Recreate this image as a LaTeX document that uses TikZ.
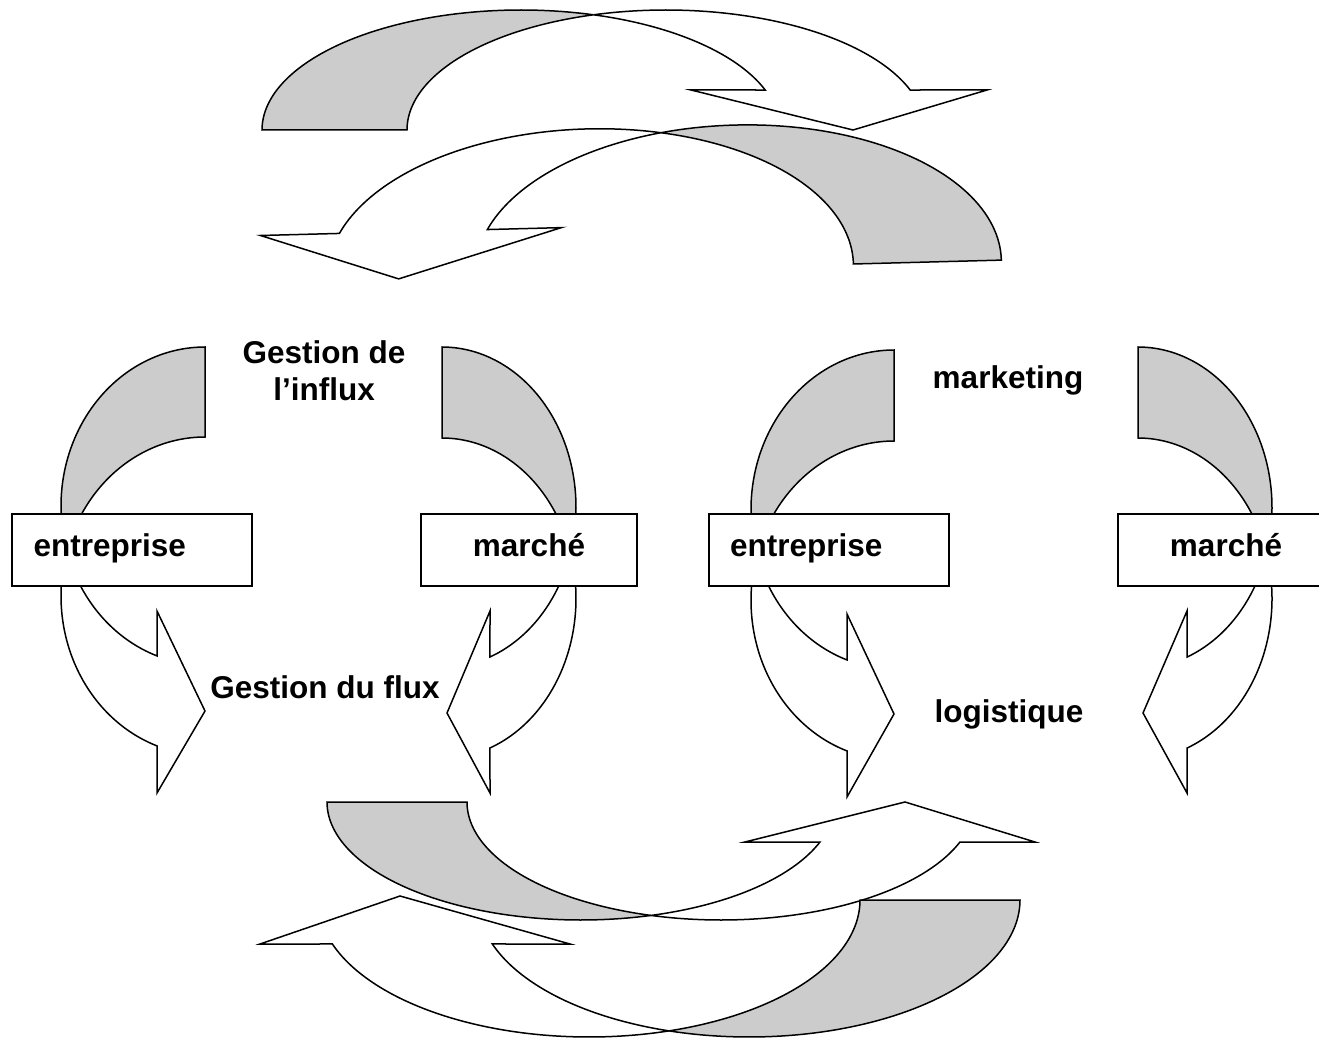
\documentclass[tikz,border=0pt]{standalone}
\usepackage{fontspec}
\setmainfont{Liberation Sans}
\definecolor{bandgray}{RGB}{204,204,204}
\begin{document}
\begin{tikzpicture}[x=1pt,y=-1pt,line width=1.5pt,line join=miter,
  back/.style={draw=black,fill=bandgray},
  front/.style={draw=black,fill=white},
  box/.style={draw=black,fill=white,minimum height=72pt,inner ysep=0pt,
    font=\fontsize{31.5}{37}\selectfont\bfseries,text height=21pt,text depth=9pt},
  lbl/.style={font=\fontsize{31.5}{37}\selectfont\bfseries,inner sep=0pt,align=center},
  pl/.style={samples=60}]
\useasboundingbox (0,0) rectangle (1319,1040);

% ---- top arrow A (to the right, down)
\path[back] plot[pl,domain=180:286.25] ({521+259*cos(\x)},{130+120*sin(\x)})
  -- plot[pl,domain=253.75:180] ({666+259*cos(\x)},{130+120*sin(\x)}) -- cycle;
\path[front] plot[pl,domain=253.75:340.53] ({666+259*cos(\x)},{130+120*sin(\x)})
  -- (987,90) -- (853,130) -- (691,90)
  -- plot[pl,domain=340.53:286.25] ({521+259*cos(\x)},{130+120*sin(\x)}) -- cycle;

% ---- top arrow B (to the left, down)
\begin{scope}[rotate around={1.5:(700,250)}]
\path[back] plot[pl,domain=360:253.66] ({738+263*cos(\x)},{268+142*sin(\x)})
  -- plot[pl,domain=286.34:360] ({590+263*cos(\x)},{268+142*sin(\x)}) -- cycle;
\path[front] plot[pl,domain=286.34:198.05] ({590+263*cos(\x)},{268+142*sin(\x)})
  -- (261,224) -- (398,271) -- (562,224)
  -- plot[pl,domain=198.05:253.66] ({738+263*cos(\x)},{268+142*sin(\x)}) -- cycle;
\end{scope}

% ---- bottom arrow C (to the right, up)
\path[back] plot[pl,domain=180:74.0] ({581+254*cos(\x)},{802+118*sin(\x)})
  -- plot[pl,domain=106.0:180] ({721+254*cos(\x)},{802+118*sin(\x)}) -- cycle;
\path[front] plot[pl,domain=106.0:19.82] ({721+254*cos(\x)},{802+118*sin(\x)})
  -- (1035,842) -- (905,802) -- (745,842)
  -- plot[pl,domain=19.82:74.0] ({581+254*cos(\x)},{802+118*sin(\x)}) -- cycle;

% ---- bottom arrow D (to the left, up)
\path[back] plot[pl,domain=0:107.17] ({749+271*cos(\x)},{900+137*sin(\x)})
  -- plot[pl,domain=72.83:0] ({589+271*cos(\x)},{900+137*sin(\x)}) -- cycle;
\path[front] plot[pl,domain=72.83:161.27] ({589+271*cos(\x)},{900+137*sin(\x)})
  -- (260,944) -- (400,896) -- (570,944)
  -- plot[pl,domain=161.27:107.17] ({749+271*cos(\x)},{900+137*sin(\x)}) -- cycle;

% ---- group 1, left arrow
\path[back] plot[pl,domain=270:163.56] ({205+144*cos(\x)},{506+159*sin(\x)})
  -- plot[pl,domain=196.44:270] ({205+144*cos(\x)},{596+159*sin(\x)}) -- cycle;
\path[front] plot[pl,domain=196.44:109.47] ({205+144*cos(\x)},{596+159*sin(\x)})
  -- (157,793) -- (205,711) -- (157,611)
  -- plot[pl,domain=109.47:163.56] ({205+144*cos(\x)},{506+159*sin(\x)}) -- cycle;

% ---- group 1, right arrow
\path[back] plot[pl,domain=-90:16.49] ({442+134*cos(\x)},{507.3+160.3*sin(\x)})
  -- plot[pl,domain=-16.49:-90] ({442+134*cos(\x)},{598.3+160.3*sin(\x)}) -- cycle;
\path[front] plot[pl,domain=-16.49:69.02] ({442+134*cos(\x)},{598.3+160.3*sin(\x)})
  -- (490,793) -- (447,713) -- (490,611)
  -- plot[pl,domain=69.02:16.49] ({442+134*cos(\x)},{507.3+160.3*sin(\x)}) -- cycle;

% ---- group 2, left arrow
\path[back] plot[pl,domain=270:163.42] ({894+143*cos(\x)},{509.4+159.4*sin(\x)})
  -- plot[pl,domain=196.58:270] ({894+143*cos(\x)},{600.4+159.4*sin(\x)}) -- cycle;
\path[front] plot[pl,domain=196.58:109.19] ({894+143*cos(\x)},{600.4+159.4*sin(\x)})
  -- (847,797) -- (894,714) -- (847,614)
  -- plot[pl,domain=109.19:163.42] ({894+143*cos(\x)},{509.4+159.4*sin(\x)}) -- cycle;

% ---- group 2, right arrow
\path[back] plot[pl,domain=-90:16.46] ({1138+134*cos(\x)},{507.6+160.6*sin(\x)})
  -- plot[pl,domain=-16.46:-90] ({1138+134*cos(\x)},{598.6+160.6*sin(\x)}) -- cycle;
\path[front] plot[pl,domain=-16.46:68.55] ({1138+134*cos(\x)},{598.6+160.6*sin(\x)})
  -- (1187,793) -- (1143,713) -- (1187,611)
  -- plot[pl,domain=68.55:16.46] ({1138+134*cos(\x)},{507.6+160.6*sin(\x)}) -- cycle;

% ---- boxes
\node[box,text width=197pt,inner xsep=21.5pt,align=left] (ent1) at (132,550) {entreprise};
\node[box,minimum width=216pt] (mar1) at (529,550) {marché};
\node[box,text width=198pt,inner xsep=21pt,align=left] (ent2) at (829,550) {entreprise};
\node[box,minimum width=216pt] (mar2) at (1226,550) {marché};

% ---- labels
\node[lbl,anchor=base] (influx) at (324,400) {Gestion de\\l’influx};
\node[lbl,anchor=base] (flux) at (325,698) {Gestion du flux};
\node[lbl,anchor=base] (mkt) at (1008,388) {marketing};
\node[lbl,anchor=base] (log) at (1009,722) {logistique};
\end{tikzpicture}
\end{document}
